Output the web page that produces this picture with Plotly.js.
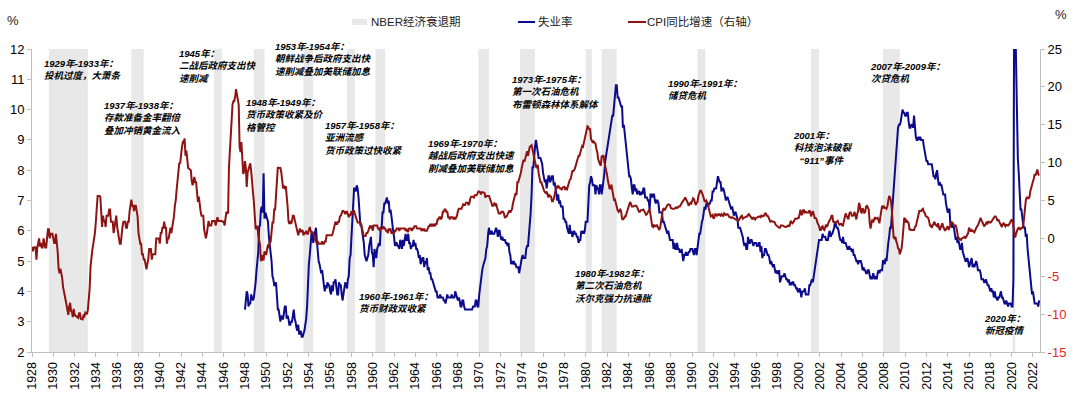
<!DOCTYPE html>
<html><head><meta charset="utf-8">
<script src="https://cdn.plot.ly/plotly-3.0.1.min.js"></script>
<style>html,body{margin:0;padding:0;background:#fff}#chart{width:1080px;height:399px}</style>
</head><body><div id="chart"></div>
<script>
// CPI year-over-year (%), monthly, right axis
const cpiStartYear = 1928;
const cpi1928to1947 = [
-1.1,-1.7,-1.2,-1.2,-1.1,-2.8,-1.2,-0.6,0.0,-1.1,-0.6,-1.2,
-1.2,0.0,-0.6,-1.2,-1.2,0.0,1.2,1.2,0.0,0.6,0.6,0.6,
0.0,-0.6,-0.6,0.6,-0.6,-1.8,-4.0,-4.6,-4.0,-4.6,-5.2,-6.4,
-7.0,-7.6,-7.7,-8.8,-9.5,-10.1,-9.0,-8.5,-9.6,-9.7,-10.4,-9.3,
-10.1,-10.2,-10.3,-10.3,-10.5,-9.9,-9.9,-10.6,-10.7,-10.7,-10.2,-10.3,
-9.8,-9.9,-10.0,-9.4,-8.0,-6.6,-3.7,-2.2,-1.5,-0.8,0.0,0.8,
2.3,4.7,5.6,5.6,5.6,5.5,2.3,1.5,3.0,2.3,2.3,1.5,
3.0,3.0,3.0,3.8,3.8,2.2,2.2,2.2,0.7,1.5,2.2,3.0,
1.5,0.7,0.0,-0.7,-0.7,0.7,1.5,2.2,2.2,2.2,1.4,1.4,
2.2,2.2,3.6,4.4,5.1,4.3,4.3,3.6,4.3,4.3,3.6,2.9,
0.7,0.0,-0.7,-0.7,-2.1,-2.1,-2.8,-2.8,-3.4,-4.1,-3.4,-2.8,
-1.4,-1.4,-1.4,-2.8,-2.1,-2.1,-2.1,-2.1,0.0,0.0,0.0,0.0,
-0.7,0.7,0.7,1.4,1.4,2.2,1.4,1.4,-0.7,0.0,0.0,0.7,
1.4,0.7,1.4,2.1,2.9,4.3,5.0,6.4,7.9,9.3,10.0,9.9,
11.3,12.1,12.7,12.6,13.2,10.9,11.6,10.7,9.3,9.2,9.1,9.0,
7.6,7.0,7.5,8.1,7.4,7.4,6.1,4.8,5.5,4.2,3.6,3.0,
3.0,3.0,1.2,0.6,0.0,0.6,1.7,2.3,1.7,1.7,1.7,2.3,
2.3,2.3,2.3,1.7,2.3,2.8,2.3,2.3,2.3,2.3,2.3,2.2,
2.2,1.7,2.8,3.4,3.4,3.3,9.4,11.6,12.7,14.9,17.7,18.1,
18.1,18.8,19.7,19.0,18.4,17.6,12.1,11.4,12.7,10.6,8.5,8.8
];
const cpi1948to1989 = [
10.2,9.3,6.8,8.7,9.1,9.5,9.9,8.9,6.5,6.1,4.8,3.0,
1.3,1.3,1.7,0.4,-0.4,-0.9,-2.9,-2.9,-2.2,-2.9,-1.7,-2.1,
-2.1,-1.2,-0.8,-1.3,-0.4,-0.4,1.7,2.1,2.1,3.8,3.8,5.9,
8.1,9.4,9.3,9.3,9.3,8.7,7.5,6.6,7.0,6.5,6.9,6.0,
4.3,2.3,1.9,2.3,1.9,2.3,3.0,3.0,2.4,1.9,1.3,0.9,
0.4,0.9,1.3,0.9,0.9,1.1,0.4,0.7,0.7,1.0,0.6,0.6,
1.1,1.5,1.1,0.7,0.9,0.7,0.4,0.0,-0.4,-0.7,-0.4,-0.7,
-0.7,-0.7,-0.7,-0.4,-0.7,-0.7,-0.4,-0.4,0.4,0.4,0.4,0.4,
0.4,0.4,0.4,0.7,1.1,1.5,2.2,1.9,1.9,2.2,2.2,2.9,
3.0,3.3,3.6,3.6,3.5,3.2,3.5,3.5,3.1,2.8,3.2,3.0,
3.6,3.2,3.6,3.6,3.2,2.8,2.5,2.1,2.1,2.1,2.1,1.8,
1.4,1.0,0.3,0.3,0.3,0.7,0.7,1.0,1.3,1.7,1.3,1.7,
1.0,1.7,1.7,1.7,1.7,1.7,1.3,1.3,1.0,1.3,1.3,1.3,
1.6,1.3,1.3,1.0,1.0,0.7,1.3,1.0,1.3,0.7,0.7,0.7,
0.7,1.0,1.0,1.3,1.3,1.3,1.0,1.3,1.3,1.3,1.3,1.3,
1.3,1.0,1.3,0.9,0.9,1.3,1.3,1.3,1.0,1.3,1.3,1.6,
1.6,1.6,1.3,1.3,1.3,1.3,1.3,1.0,1.3,1.0,1.3,1.0,
1.0,1.0,1.3,1.6,1.6,1.9,1.6,1.9,1.6,1.9,1.6,1.9,
1.9,2.5,2.5,2.8,2.8,2.5,2.8,3.5,3.5,3.8,3.8,3.5,
3.5,2.8,2.8,2.5,2.8,2.8,2.8,2.5,2.8,2.5,2.8,3.0,
3.6,3.9,3.9,3.9,3.9,4.2,4.5,4.4,4.4,4.7,4.7,4.7,
4.4,4.7,5.3,5.5,5.5,5.5,5.4,5.7,5.7,5.7,5.9,6.2,
6.2,6.1,5.8,6.1,6.1,6.0,6.0,5.4,5.6,5.6,5.6,5.6,
5.3,5.0,4.7,4.2,4.4,4.6,4.4,4.6,4.1,3.8,3.3,3.3,
3.3,3.5,3.5,3.5,3.2,2.7,2.9,2.9,3.2,3.4,3.7,3.4,
3.6,3.9,4.6,5.1,5.5,6.0,5.7,7.4,7.4,7.8,8.3,8.7,
9.4,10.0,10.4,10.1,10.7,10.9,11.5,10.9,11.9,12.1,12.2,12.3,
11.8,11.2,10.3,10.2,9.5,9.3,9.7,8.6,7.9,7.4,7.4,6.9,
6.7,6.3,6.1,6.0,6.2,5.9,5.4,5.7,5.5,5.5,4.9,4.9,
5.2,6.0,6.4,6.9,6.7,6.9,6.8,6.6,6.6,6.4,6.7,6.7,
6.8,6.4,6.6,6.5,6.9,7.4,7.7,7.8,8.3,8.9,8.9,9.0,
9.3,9.9,10.1,10.5,10.9,10.9,11.3,11.8,12.2,12.1,12.6,13.3,
13.9,14.2,14.8,14.7,14.4,14.4,13.1,12.9,12.6,12.8,12.6,12.5,
11.8,11.4,10.5,10.0,9.8,9.6,10.8,10.8,11.0,10.1,9.6,8.9,
8.4,7.6,6.8,6.5,6.7,7.1,6.4,5.9,5.0,5.1,4.6,3.8,
3.7,3.5,3.6,3.9,3.5,2.6,2.5,2.6,2.9,2.9,3.3,3.8,
4.2,4.6,4.8,4.6,4.2,4.2,4.2,4.3,4.3,4.3,4.1,3.9,
3.5,3.5,3.7,3.7,3.8,3.8,3.6,3.3,3.1,3.2,3.5,3.8,
3.9,3.1,2.2,1.6,1.5,1.8,1.6,1.6,1.8,1.5,1.3,1.1,
1.5,2.1,3.0,3.8,3.9,3.7,3.9,4.3,4.4,4.5,4.5,4.4,
4.0,3.9,3.9,3.9,3.9,4.0,4.1,4.0,4.2,4.2,4.2,4.4,
4.7,4.8,5.0,5.1,5.4,5.2,5.0,4.7,4.3,4.5,4.7,4.6
];
const cpi1990to2022 = [
5.2,5.3,5.2,4.7,4.4,4.7,4.8,5.6,6.2,6.3,6.3,6.1,
5.7,5.3,4.9,4.9,5.0,4.7,4.4,3.8,3.4,2.9,3.0,3.1,
2.6,2.8,3.2,3.2,3.0,3.1,3.2,3.1,3.0,3.2,3.0,2.9,
3.3,3.2,3.1,3.2,3.2,3.0,2.8,2.8,2.7,2.8,2.7,2.7,
2.5,2.5,2.5,2.4,2.3,2.5,2.8,2.9,3.0,2.6,2.7,2.7,
2.8,2.9,2.9,3.1,3.2,3.0,2.8,2.6,2.5,2.8,2.6,2.5,
2.7,2.7,2.8,2.9,2.9,2.8,3.0,2.9,3.0,3.0,3.3,3.3,
3.0,3.0,2.8,2.5,2.2,2.3,2.2,2.2,2.2,2.1,1.8,1.7,
1.6,1.4,1.4,1.4,1.7,1.7,1.7,1.6,1.5,1.5,1.5,1.6,
1.7,1.6,1.7,2.3,2.1,2.0,2.1,2.3,2.6,2.6,2.6,2.7,
2.7,3.2,3.8,3.1,3.2,3.7,3.7,3.4,3.5,3.4,3.4,3.4,
3.7,3.5,2.9,3.3,3.6,3.2,2.7,2.7,2.6,2.1,1.9,1.6,
1.1,1.1,1.5,1.6,1.2,1.1,1.5,1.8,1.5,2.0,2.2,2.4,
2.6,3.0,3.0,2.2,2.1,2.1,2.1,2.2,2.3,2.0,1.8,1.9,
1.9,1.7,1.7,2.3,3.1,3.3,3.0,2.7,2.5,3.2,3.5,3.3,
3.0,3.0,3.1,3.5,2.8,2.5,3.2,3.6,4.7,4.3,3.5,3.4,
4.0,3.6,3.4,3.5,4.2,4.3,4.1,3.8,2.1,1.3,2.0,2.5,
2.1,2.4,2.8,2.6,2.7,2.7,2.4,2.0,2.8,3.5,4.3,4.1,
4.3,4.0,4.0,3.9,4.2,5.0,5.6,5.4,4.9,3.7,1.1,0.1,
0.0,0.2,-0.4,-0.7,-1.3,-1.4,-2.1,-1.5,-1.3,-0.2,1.8,2.7,
2.6,2.1,2.3,2.2,2.0,1.1,1.2,1.1,1.1,1.2,1.1,1.5,
1.6,2.1,2.7,3.2,3.6,3.6,3.6,3.8,3.9,3.5,3.4,3.0,
2.9,2.9,2.7,2.3,1.7,1.7,1.4,1.7,2.0,2.2,1.8,1.7,
1.6,2.0,1.5,1.1,1.4,1.8,2.0,1.5,1.2,1.0,1.2,1.5,
1.6,1.1,1.5,2.0,2.1,2.1,2.0,1.7,1.7,1.7,1.3,0.8,
-0.1,0.0,-0.1,-0.2,0.0,0.1,0.2,0.2,0.0,0.2,0.5,0.7,
1.4,1.0,0.9,1.1,1.0,1.0,0.8,1.1,1.5,1.6,1.7,2.1,
2.5,2.7,2.4,2.2,1.9,1.6,1.7,1.9,2.2,2.0,2.2,2.1,
2.1,2.2,2.4,2.5,2.8,2.9,2.9,2.7,2.3,2.5,2.2,1.9,
1.6,1.5,1.9,2.0,1.8,1.6,1.8,1.7,1.7,1.8,2.1,2.3,
2.5,2.3,1.5,0.3,0.1,0.6,1.0,1.3,1.4,1.2,1.2,1.4,
1.4,1.7,2.6,4.2,5.0,5.4,5.4,5.3,5.4,6.2,6.8,7.0,
7.5,7.9,8.5,8.3,8.6,9.1,8.5,8.3
];

// Unemployment rate (%), monthly, left axis
const unempStartYear = 1948;
const unemp1948to1989 = [
3.4,3.8,4.0,3.9,3.5,3.6,3.6,3.9,3.8,3.7,3.8,4.0,
4.3,4.7,5.0,5.3,6.1,6.2,6.7,6.8,6.6,7.9,6.4,6.6,
6.5,6.4,6.3,5.8,5.5,5.4,5.0,4.5,4.4,4.2,4.2,4.3,
3.7,3.4,3.4,3.1,3.0,3.2,3.1,3.1,3.3,3.5,3.5,3.1,
3.2,3.1,2.9,2.9,3.0,3.0,3.2,3.4,3.1,3.0,2.8,2.7,
2.9,2.6,2.6,2.7,2.5,2.5,2.6,2.7,2.9,3.1,3.5,4.5,
4.9,5.2,5.7,5.9,5.9,5.6,5.8,6.0,6.1,5.7,5.3,5.0,
4.9,4.7,4.6,4.7,4.3,4.2,4.0,4.2,4.1,4.3,4.2,4.2,
4.0,3.9,4.2,4.0,4.3,4.3,4.4,4.1,3.9,3.9,4.3,4.2,
4.2,3.9,3.7,3.9,4.1,4.3,4.2,4.1,4.4,4.5,5.1,5.2,
5.8,6.4,6.7,7.4,7.4,7.3,7.5,7.4,7.1,6.7,6.2,6.2,
6.0,5.9,5.6,5.2,5.1,5.0,5.1,5.2,5.5,5.7,5.8,5.3,
5.2,4.8,5.4,5.2,5.1,5.4,5.5,5.6,5.5,6.1,6.1,6.6,
6.6,6.9,6.9,7.0,7.1,6.9,7.0,6.6,6.7,6.5,6.1,6.0,
5.8,5.5,5.6,5.6,5.5,5.5,5.4,5.7,5.6,5.4,5.7,5.5,
5.7,5.9,5.7,5.7,5.9,5.6,5.6,5.4,5.5,5.5,5.7,5.5,
5.6,5.4,5.4,5.3,5.1,5.2,4.9,5.0,5.1,5.1,4.8,5.0,
4.9,5.1,4.7,4.8,4.6,4.6,4.4,4.4,4.3,4.2,4.1,4.0,
4.0,3.8,3.8,3.8,3.9,3.8,3.8,3.8,3.7,3.7,3.6,3.8,
3.9,3.8,3.8,3.8,3.8,3.9,3.8,3.8,3.8,4.0,3.9,3.8,
3.7,3.8,3.7,3.5,3.5,3.7,3.7,3.5,3.4,3.4,3.4,3.4,
3.4,3.4,3.4,3.4,3.4,3.5,3.5,3.5,3.7,3.7,3.5,3.5,
3.9,4.2,4.4,4.6,4.8,4.9,5.0,5.1,5.4,5.5,5.9,6.1,
5.9,5.9,6.0,5.9,5.9,5.9,6.0,6.1,6.0,5.8,6.0,6.0,
5.8,5.7,5.8,5.7,5.7,5.7,5.6,5.6,5.5,5.6,5.3,5.2,
4.9,5.0,4.9,5.0,4.9,4.9,4.8,4.8,4.8,4.6,4.8,4.9,
5.1,5.2,5.1,5.1,5.1,5.4,5.5,5.5,5.9,6.0,6.6,7.2,
8.1,8.1,8.6,8.8,9.0,8.8,8.6,8.4,8.4,8.4,8.3,8.2,
7.9,7.7,7.6,7.7,7.4,7.6,7.8,7.8,7.6,7.7,7.8,7.8,
7.5,7.6,7.4,7.2,7.0,7.2,6.9,7.0,6.8,6.8,6.8,6.4,
6.4,6.3,6.3,6.1,6.0,5.9,6.2,5.9,6.0,5.8,5.9,6.0,
5.9,5.9,5.8,5.8,5.6,5.7,5.7,6.0,5.9,6.0,5.9,6.0,
6.3,6.3,6.3,6.9,7.5,7.6,7.8,7.7,7.5,7.5,7.5,7.2,
7.5,7.4,7.4,7.2,7.5,7.5,7.2,7.4,7.6,7.9,8.3,8.5,
8.6,8.9,9.0,9.3,9.4,9.6,9.8,9.8,10.1,10.4,10.8,10.8,
10.4,10.4,10.3,10.2,10.1,10.1,9.4,9.5,9.2,8.8,8.5,8.3,
8.0,7.8,7.8,7.7,7.4,7.2,7.5,7.5,7.3,7.4,7.2,7.3,
7.3,7.2,7.2,7.3,7.2,7.4,7.4,7.1,7.1,7.1,7.0,7.0,
6.7,7.2,7.2,7.1,7.2,7.2,7.0,6.9,7.0,7.0,6.9,6.6,
6.6,6.6,6.6,6.3,6.3,6.2,6.1,6.0,5.9,6.0,5.8,5.7,
5.7,5.7,5.7,5.4,5.6,5.4,5.4,5.6,5.4,5.4,5.3,5.3,
5.4,5.2,5.0,5.2,5.2,5.3,5.2,5.2,5.3,5.3,5.4,5.4
];
const unemp1990to2022 = [
5.4,5.3,5.2,5.4,5.4,5.2,5.5,5.7,5.9,5.9,6.2,6.3,
6.4,6.6,6.8,6.7,6.9,6.9,6.8,6.9,6.9,7.0,7.0,7.3,
7.3,7.4,7.4,7.4,7.6,7.8,7.7,7.6,7.6,7.3,7.4,7.4,
7.3,7.1,7.0,7.1,7.1,7.0,6.9,6.8,6.7,6.8,6.6,6.5,
6.6,6.6,6.5,6.4,6.1,6.1,6.1,6.0,5.9,5.8,5.6,5.5,
5.6,5.4,5.4,5.8,5.6,5.6,5.7,5.7,5.6,5.5,5.6,5.6,
5.6,5.5,5.5,5.6,5.6,5.3,5.5,5.1,5.2,5.2,5.4,5.4,
5.3,5.2,5.2,5.1,4.9,5.0,4.9,4.8,4.9,4.7,4.6,4.7,
4.6,4.6,4.7,4.3,4.4,4.5,4.5,4.5,4.6,4.5,4.4,4.4,
4.3,4.4,4.2,4.3,4.2,4.3,4.3,4.2,4.2,4.1,4.1,4.0,
4.0,4.1,4.0,3.8,4.0,4.0,4.0,4.1,3.9,3.9,3.9,3.9,
4.2,4.2,4.3,4.4,4.3,4.5,4.6,4.9,5.0,5.3,5.5,5.7,
5.7,5.7,5.7,5.9,5.8,5.8,5.8,5.7,5.7,5.7,5.9,6.0,
5.8,5.9,5.9,6.0,6.1,6.3,6.2,6.1,6.1,6.0,5.8,5.7,
5.7,5.6,5.8,5.6,5.6,5.6,5.5,5.4,5.4,5.5,5.4,5.4,
5.3,5.4,5.2,5.2,5.1,5.0,5.0,4.9,5.0,5.0,5.0,4.9,
4.7,4.8,4.7,4.7,4.6,4.6,4.7,4.7,4.5,4.4,4.5,4.4,
4.6,4.5,4.4,4.5,4.4,4.6,4.7,4.6,4.7,4.7,4.7,5.0,
5.0,4.9,5.1,5.0,5.4,5.6,5.8,6.1,6.1,6.5,6.8,7.3,
7.8,8.3,8.7,9.0,9.4,9.5,9.5,9.6,9.8,10.0,9.9,9.9,
9.8,9.8,9.9,9.9,9.6,9.4,9.4,9.5,9.5,9.4,9.8,9.3,
9.1,9.0,9.0,9.1,9.0,9.1,9.0,9.0,9.0,8.8,8.6,8.5,
8.3,8.3,8.2,8.2,8.2,8.2,8.2,8.0,7.8,7.8,7.7,7.9,
8.0,7.7,7.5,7.6,7.5,7.5,7.3,7.2,7.2,7.2,6.9,6.7,
6.6,6.7,6.7,6.2,6.3,6.1,6.2,6.1,5.9,5.7,5.8,5.6,
5.7,5.5,5.4,5.4,5.6,5.3,5.2,5.1,5.0,5.0,5.1,5.0,
4.8,4.9,5.0,5.1,4.8,4.9,4.8,4.9,5.0,4.9,4.7,4.7,
4.7,4.6,4.4,4.4,4.4,4.3,4.3,4.4,4.3,4.2,4.2,4.1,
4.0,4.1,4.0,4.0,3.8,4.0,3.8,3.8,3.7,3.8,3.8,3.9,
4.0,3.8,3.8,3.7,3.6,3.6,3.7,3.6,3.5,3.6,3.6,3.6,
3.5,3.5,4.4,14.7,13.2,11.0,10.2,8.4,7.9,6.9,6.7,6.7,
6.4,6.2,6.1,6.1,5.8,5.9,5.4,5.1,4.7,4.5,4.2,3.9,
4.0,3.8,3.6,3.6,3.6,3.6,3.5,3.7
];

// NBER recessions (peak month, trough month)
const recessionStarts = ['1929-08-01','1937-05-01','1945-02-01','1948-11-01','1953-07-01','1957-08-01','1960-04-01','1969-12-01','1973-11-01','1980-01-01','1981-07-01','1990-07-01','2001-03-01','2007-12-01','2020-02-01'];
const recessionEnds   = ['1933-03-31','1938-06-30','1945-10-31','1949-10-31','1954-05-31','1958-04-30','1961-02-28','1970-11-30','1975-03-31','1980-07-31','1982-11-30','1991-03-31','2001-11-30','2009-06-30','2020-04-30'];

const rightTickVals = [25,20,15,10,5,0,-5,-10,-15];

const notes = [
  {x:'1928-12-15', y:11.32, t:'1929年-1933年：<br>投机过度，大萧条'},
  {x:'1934-07-25', y:9.72, t:'1937年-1938年：<br>存款准备金率翻倍<br>叠加冲销黄金流入'},
  {x:'1941-08-10', y:11.45, t:'1945年：<br>二战后政府支出快<br>速削减'},
  {x:'1947-12-05', y:9.83, t:'1948年-1949年：<br>货币政策收紧及价<br>格管控'},
  {x:'1950-08-15', y:11.67, t:'1953年-1954年：<br>朝鲜战争后政府支出快<br>速削减叠加美联储加息'},
  {x:'1955-05-05', y:9.06, t:'1957年-1958年：<br>亚洲流感<br>货币政策过快收紧'},
  {x:'1965-01-08', y:8.47, t:'1969年-1970年：<br>越战后政府支出快速<br>削减叠加美联储加息'},
  {x:'1972-11-28', y:10.58, t:'1973年-1975年：<br>第一次石油危机<br>布雷顿森林体系解体'},
  {x:'1987-07-22', y:10.66, t:'1990年-1991年：<br>储贷危机'},
  {x:'1999-04-07', y:8.73, t:'2001年：<br>科技泡沫破裂<br>\u00a0\u00a0“911”事件'},
  {x:'2006-07-01', y:11.21, t:'2007年-2009年：<br>次贷危机'},
  {x:'1958-07-20', y:3.63, t:'1960年-1961年：<br>货币财政双收紧'},
  {x:'1978-10-30', y:4.18, t:'1980年-1982年：<br>第二次石油危机<br>沃尔克强力抗通胀'},
  {x:'2017-03-25', y:2.92, t:'2020年：<br>新冠疫情'}
];

function monthDates(startYear, n){
  const out=[];
  for(let i=0;i<n;i++){
    const y=startYear+Math.floor(i/12), m=(i%12)+1;
    out.push(y+'-'+(m<10?'0':'')+m+'-01');
  }
  return out;
}

const cpi = cpi1928to1947.concat(cpi1948to1989, cpi1990to2022);
const unemp = unemp1948to1989.concat(unemp1990to2022);

const BLUE='#0B0B8C', RED='#8E1414', SHADE='#E8E8E8', AXIS='#BFBFBF', NEG='#E32626';
const FONT='Liberation Sans, Arial, Noto Sans CJK SC, sans-serif';
const CJK='Liberation Sans, Noto Sans CJK SC, sans-serif';

const traces = [
  {type:'scatter', mode:'lines', name:'失业率', x:monthDates(unempStartYear, unemp.length), y:unemp,
   line:{color:BLUE, width:2}, yaxis:'y', showlegend:false, hoverinfo:'x+y'},
  {type:'scatter', mode:'lines', name:'CPI同比增速（右轴）', x:monthDates(cpiStartYear, cpi.length), y:cpi,
   line:{color:RED, width:2}, yaxis:'y2', showlegend:false, hoverinfo:'x+y'}
];

const shapes = recessionStarts.map((s,i)=>({type:'rect', xref:'x', yref:'paper', x0:s, x1:recessionEnds[i], y0:0, y1:1,
  fillcolor:SHADE, line:{width:0}, layer:'below'}));

// legend symbols (paper coords above plot)
const pw=1008, ph=303;
function px(x){return (x-32)/pw;} function py(y){return (352-y)/ph;}
shapes.push({type:'rect', xref:'paper', yref:'paper', x0:px(352), x1:px(367), y0:py(25), y1:py(19), fillcolor:SHADE, line:{width:0}});
shapes.push({type:'line', xref:'paper', yref:'paper', x0:px(518), x1:px(535), y0:py(22), y1:py(22), line:{color:BLUE, width:2}});
shapes.push({type:'line', xref:'paper', yref:'paper', x0:px(628), x1:px(646), y0:py(22), y1:py(22), line:{color:RED, width:2}});

const annotations = notes.map(n=>({x:n.x, y:n.y, xref:'x', yref:'y', text:'<b><i>'+n.t+'</i></b>', showarrow:false,
  xanchor:'left', yanchor:'middle', align:'left', font:{family:CJK, size:9.5, color:'#000'}}));
annotations.push({xref:'paper', yref:'paper', x:px(369), y:py(22), xanchor:'left', yanchor:'middle', showarrow:false,
  text:'NBER经济衰退期', font:{family:CJK, size:11.5, color:'#222'}});
annotations.push({xref:'paper', yref:'paper', x:px(536), y:py(22), xanchor:'left', yanchor:'middle', showarrow:false,
  text:'失业率', font:{family:CJK, size:11.5, color:'#222'}});
annotations.push({xref:'paper', yref:'paper', x:px(645), y:py(22), xanchor:'left', yanchor:'middle', showarrow:false,
  text:'CPI同比增速（右轴）', font:{family:CJK, size:11.5, color:'#222'}});
annotations.push({xref:'paper', yref:'paper', x:px(13), y:py(20), xanchor:'center', yanchor:'middle', showarrow:false,
  text:'%', font:{family:FONT, size:13, color:'#222'}});
annotations.push({xref:'paper', yref:'paper', x:px(1061), y:py(15), xanchor:'center', yanchor:'middle', showarrow:false,
  text:'%', font:{family:FONT, size:13, color:'#222'}});

const layout = {
  width:1080, height:399,
  margin:{l:32, r:40, t:49, b:47, pad:0},
  paper_bgcolor:'#fff', plot_bgcolor:'#fff',
  showlegend:false,
  font:{family:FONT, size:13, color:'#000'},
  xaxis:{type:'date', range:['1928-01-01','2022-08-31'], tick0:'1928-01-01', dtick:'M24', tickformat:'%Y',
    tickangle:-90, tickfont:{size:12.5, color:'#000'}, showgrid:false, zeroline:false,
    showline:true, linecolor:AXIS, linewidth:1, ticks:'outside', ticklen:4, tickcolor:AXIS},
  yaxis:{range:[2,12], dtick:1, tick0:2, showgrid:false, zeroline:false, showline:true, linecolor:AXIS, linewidth:1,
    ticks:'outside', ticklen:4, tickcolor:AXIS, tickfont:{size:13, color:'#000'}},
  yaxis2:{overlaying:'y', side:'right', range:[-15,25], tickmode:'array', tickvals:rightTickVals,
    ticktext:rightTickVals.map(v=> v<0 ? '<span style="color:'+NEG+'">'+v+'</span>' : String(v)),
    showgrid:false, zeroline:false, showline:true, linecolor:AXIS, linewidth:1,
    ticks:'outside', ticklen:4, tickcolor:AXIS, tickfont:{size:13, color:'#000'}},
  shapes:shapes,
  annotations:annotations
};

Plotly.newPlot('chart', traces, layout, {displayModeBar:false, staticPlot:true});
</script>
</body></html>
